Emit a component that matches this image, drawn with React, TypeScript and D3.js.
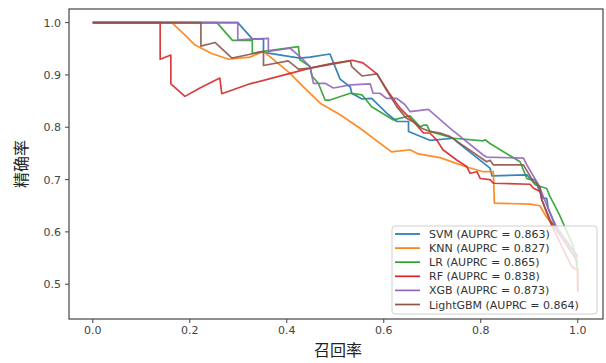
import React, { useEffect, useRef } from 'react';
import * as d3 from 'd3';

// precision-recall points: [recall, precision]
const svmPR: [number, number][] = [
  [0, 1], [0.299, 1], [0.329, 0.969], [0.352, 0.969], [0.352, 0.943], [0.427, 0.932],
  [0.448, 0.934], [0.489, 0.94], [0.51, 0.892], [0.531, 0.877], [0.534, 0.865],
  [0.555, 0.854], [0.575, 0.855], [0.606, 0.827], [0.627, 0.811], [0.651, 0.811],
  [0.651, 0.792], [0.695, 0.775], [0.744, 0.779], [0.751, 0.772], [0.819, 0.722],
  [0.823, 0.707], [0.895, 0.709], [0.902, 0.702], [0.912, 0.699], [0.919, 0.683],
  [0.929, 0.664], [0.936, 0.664], [0.939, 0.645], [0.946, 0.629], [0.954, 0.61],
  [0.991, 0.565], [1.0, 0.553],
];
const knnPR: [number, number][] = [
  [0, 1], [0.163, 1], [0.187, 0.979], [0.211, 0.957], [0.245, 0.941], [0.28, 0.93],
  [0.324, 0.934], [0.352, 0.945], [0.407, 0.903], [0.427, 0.884], [0.469, 0.846],
  [0.51, 0.824], [0.551, 0.798], [0.616, 0.753], [0.654, 0.757], [0.671, 0.749],
  [0.716, 0.742], [0.771, 0.724], [0.805, 0.715], [0.826, 0.715], [0.828, 0.655],
  [0.902, 0.653], [0.922, 0.65], [0.933, 0.632], [0.964, 0.594], [0.991, 0.559],
  [0.998, 0.546], [1.0, 0.489],
];
const lrPR: [number, number][] = [
  [0, 1], [0.256, 1], [0.288, 0.966], [0.329, 0.966], [0.329, 0.941], [0.352, 0.945],
  [0.424, 0.954], [0.427, 0.929], [0.448, 0.916], [0.452, 0.898], [0.465, 0.884],
  [0.479, 0.852], [0.489, 0.852], [0.531, 0.865], [0.555, 0.862], [0.575, 0.839],
  [0.62, 0.814], [0.654, 0.822], [0.675, 0.801], [0.682, 0.804], [0.689, 0.804],
  [0.695, 0.792], [0.744, 0.779], [0.805, 0.774], [0.809, 0.776], [0.819, 0.769],
  [0.881, 0.734], [0.895, 0.702], [0.905, 0.699], [0.912, 0.69], [0.936, 0.683],
  [0.943, 0.667], [0.95, 0.655], [0.964, 0.629], [0.991, 0.572], [1.0, 0.527],
];
const rfPR: [number, number][] = [
  [0, 1], [0.139, 1], [0.139, 0.93], [0.161, 0.938], [0.161, 0.883], [0.19, 0.859],
  [0.221, 0.875], [0.262, 0.894], [0.266, 0.864], [0.324, 0.883], [0.407, 0.903],
  [0.448, 0.913], [0.489, 0.921], [0.535, 0.928], [0.557, 0.923], [0.586, 0.902],
  [0.609, 0.868], [0.634, 0.836], [0.661, 0.811], [0.682, 0.789], [0.695, 0.789],
  [0.709, 0.776], [0.722, 0.757], [0.751, 0.737], [0.771, 0.725], [0.778, 0.712],
  [0.792, 0.715], [0.799, 0.702], [0.819, 0.7], [0.826, 0.693], [0.902, 0.691],
  [0.908, 0.684], [0.922, 0.677], [0.926, 0.661], [0.936, 0.636], [0.946, 0.613],
  [0.977, 0.553], [0.988, 0.533], [1.0, 0.527], [1.0, 0.485],
];
const xgbPR: [number, number][] = [
  [0, 1], [0.299, 1], [0.299, 0.967], [0.362, 0.97], [0.362, 0.945], [0.407, 0.951],
  [0.427, 0.935], [0.448, 0.916], [0.455, 0.884], [0.479, 0.884], [0.496, 0.875],
  [0.531, 0.881], [0.572, 0.883], [0.578, 0.865], [0.592, 0.865], [0.606, 0.855],
  [0.627, 0.855], [0.644, 0.843], [0.654, 0.83], [0.692, 0.834], [0.737, 0.798],
  [0.805, 0.747], [0.812, 0.743], [0.888, 0.741], [0.895, 0.728], [0.905, 0.712],
  [0.919, 0.69], [0.926, 0.674], [0.936, 0.651], [0.954, 0.613], [0.99, 0.565],
  [1.0, 0.55],
];
const lgbmPR: [number, number][] = [
  [0, 1], [0.223, 1], [0.223, 0.955], [0.252, 0.962], [0.287, 0.932], [0.352, 0.945],
  [0.352, 0.918], [0.403, 0.927], [0.424, 0.911], [0.448, 0.913], [0.531, 0.927],
  [0.534, 0.916], [0.555, 0.898], [0.586, 0.902], [0.603, 0.875], [0.627, 0.839],
  [0.647, 0.817], [0.665, 0.808], [0.678, 0.798], [0.695, 0.792], [0.716, 0.789],
  [0.737, 0.782], [0.812, 0.734], [0.819, 0.737], [0.826, 0.728], [0.888, 0.728],
  [0.902, 0.706], [0.908, 0.696], [0.915, 0.693], [0.922, 0.686], [0.926, 0.661],
  [0.936, 0.639], [0.943, 0.623], [0.984, 0.565], [1.0, 0.542],
];

const modelNames = ['SVM', 'KNN', 'LR', 'RF', 'XGB', 'LightGBM'];
const auprcValues = [0.863, 0.827, 0.865, 0.838, 0.873, 0.864];
const curves = [svmPR, knnPR, lrPR, rfPR, xgbPR, lgbmPR];
const colors = ['#1f77b4', '#ff7f0e', '#2ca02c', '#d62728', '#9467bd', '#8c564b'];

const xTicks = [0, 0.2, 0.4, 0.6, 0.8, 1.0];
const yTicks = [0.5, 0.6, 0.7, 0.8, 0.9, 1.0];

const W = 606;
const H = 363;
const LATIN = '"DejaVu Sans", sans-serif';
const CJK = '"Noto Sans CJK SC", sans-serif';

const App = () => {
  const svgRef = useRef<SVGSVGElement | null>(null);

  useEffect(() => {
    if (!svgRef.current) return;
    const svg = d3.select(svgRef.current);
    svg.selectAll('*').remove();

    const plot = { left: 69, right: 603, top: 9, bottom: 319 };

    const x = d3.scaleLinear().domain([-0.049, 1.052]).range([plot.left, plot.right]);
    const y = d3.scaleLinear().domain([0.4335, 1.026]).range([plot.bottom, plot.top]);

    svg.append('rect').attr('width', W).attr('height', H).attr('fill', '#fff');

    const line = d3.line<[number, number]>()
      .x(d => x(d[0]))
      .y(d => y(d[1]));

    // curves go under the legend box
    const g = svg.append('g');
    curves.forEach((pts, i) => {
      g.append('path')
        .datum(pts)
        .attr('d', line)
        .attr('fill', 'none')
        .attr('stroke', colors[i])
        .attr('stroke-width', 1.7)
        .attr('stroke-opacity', 0.9)
        .attr('stroke-linejoin', 'round');
    });

    // spines
    svg.append('rect')
      .attr('x', plot.left).attr('y', plot.top)
      .attr('width', plot.right - plot.left).attr('height', plot.bottom - plot.top)
      .attr('fill', 'none')
      .attr('stroke', '#444')
      .attr('stroke-width', 1.2);

    xTicks.forEach(t => {
      svg.append('line')
        .attr('x1', x(t)).attr('x2', x(t))
        .attr('y1', plot.bottom).attr('y2', plot.bottom + 4)
        .attr('stroke', '#444');
      svg.append('text')
        .attr('x', x(t)).attr('y', plot.bottom + 15)
        .attr('text-anchor', 'middle')
        .attr('font-family', LATIN)
        .attr('font-size', 11)
        .attr('fill', '#444')
        .text(t.toFixed(1));
    });

    yTicks.forEach(t => {
      svg.append('line')
        .attr('x1', plot.left - 4).attr('x2', plot.left)
        .attr('y1', y(t)).attr('y2', y(t))
        .attr('stroke', '#444');
      svg.append('text')
        .attr('x', plot.left - 8).attr('y', y(t) + 4)
        .attr('text-anchor', 'end')
        .attr('font-family', LATIN)
        .attr('font-size', 11)
        .attr('fill', '#444')
        .text(t.toFixed(1));
    });

    svg.append('text')
      .attr('x', 338).attr('y', 356)
      .attr('text-anchor', 'middle')
      .attr('font-family', CJK)
      .attr('font-size', 16)
      .attr('fill', '#222')
      .text('召回率');

    svg.append('text')
      .attr('transform', `translate(27,${(plot.top + plot.bottom) / 2}) rotate(-90)`)
      .attr('text-anchor', 'middle')
      .attr('font-family', CJK)
      .attr('font-size', 16)
      .attr('fill', '#222')
      .text('精确率');

    // legend
    const lg = svg.append('g').attr('transform', 'translate(392,226)');
    lg.append('rect')
      .attr('width', 205).attr('height', 88)
      .attr('rx', 3)
      .attr('fill', '#fff')
      .attr('fill-opacity', 0.8)
      .attr('stroke', '#d0d0d0');
    modelNames.forEach((name, i) => {
      const cy = 8 + i * 14.1;
      lg.append('line')
        .attr('x1', 3).attr('x2', 28)
        .attr('y1', cy).attr('y2', cy)
        .attr('stroke', colors[i])
        .attr('stroke-width', 1.7);
      lg.append('text')
        .attr('x', 37).attr('y', cy + 4)
        .attr('font-family', LATIN)
        .attr('font-size', 11)
        .attr('fill', '#333')
        .text(`${name} (AUPRC = ${auprcValues[i].toFixed(3)})`);
    });
  }, []);

  return (
    <svg
      ref={svgRef}
      width={W}
      height={H}
      style={{ position: 'absolute', left: 0, top: 0 }}
    />
  );
};

export default App;
